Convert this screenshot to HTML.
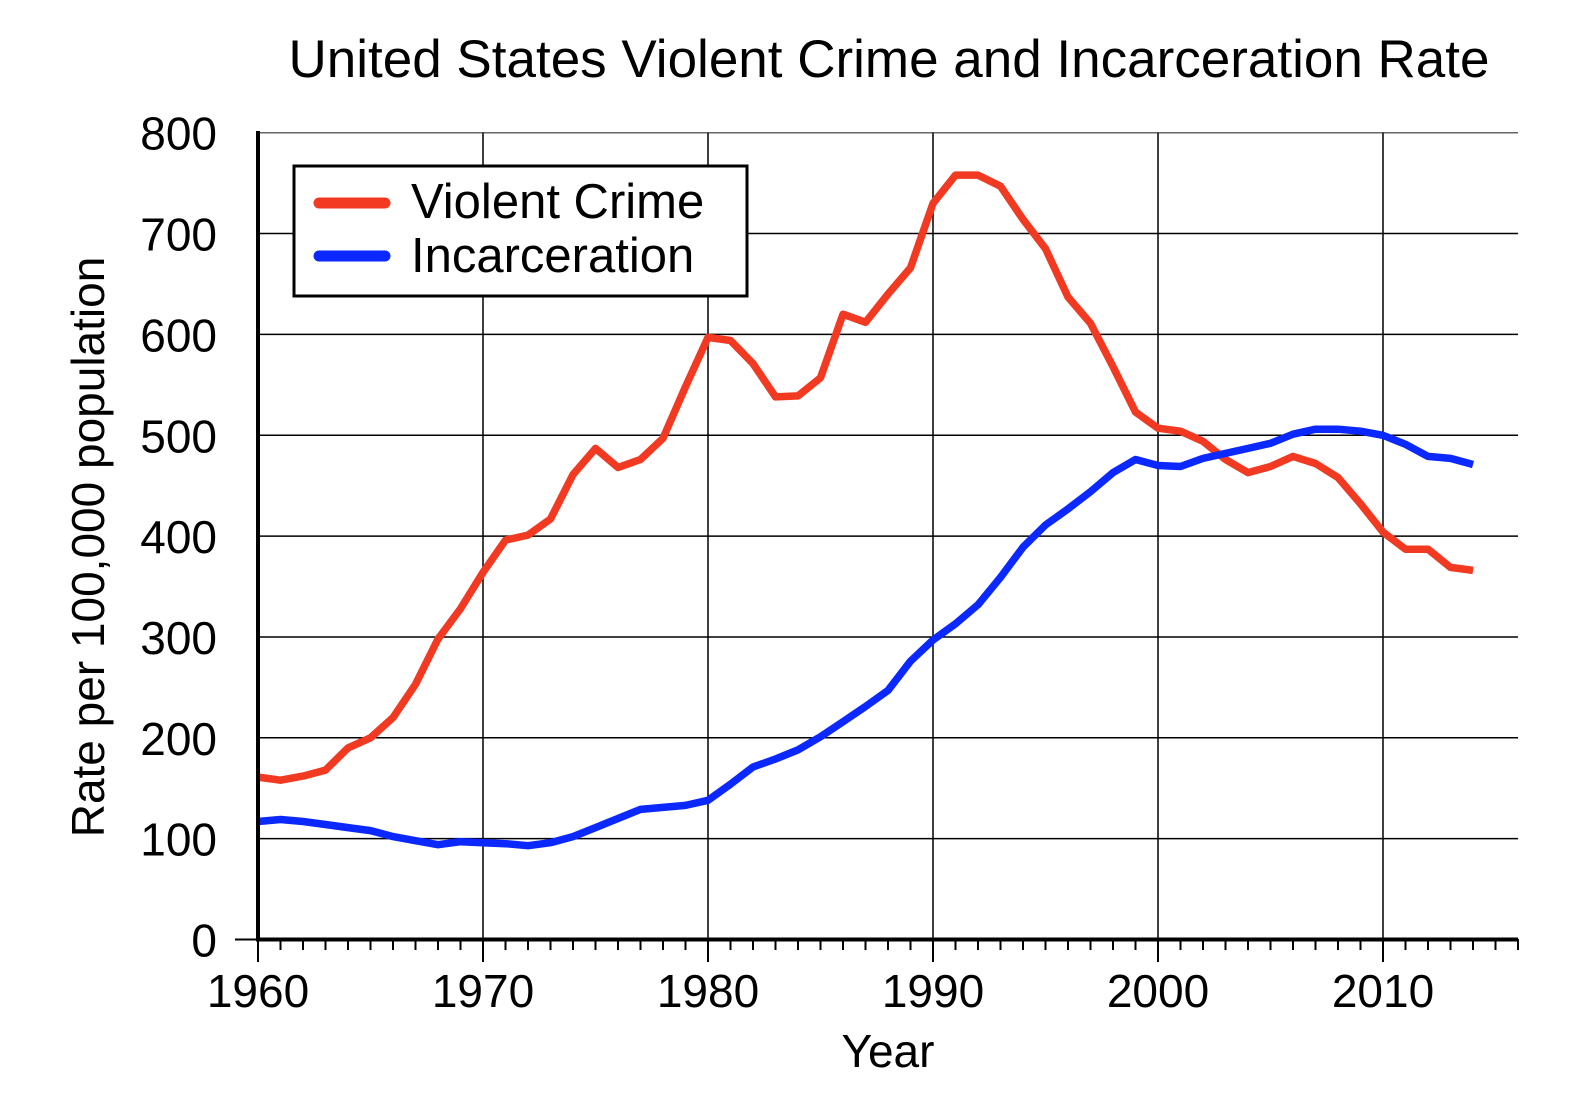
<!DOCTYPE html>
<html><head><meta charset="utf-8"><style>
html,body{margin:0;padding:0;background:#fff}
svg{display:block;font-family:"Liberation Sans",sans-serif}
</style></head><body>
<svg id="s" width="1592" height="1116" viewBox="0 0 1592 1116" xmlns="http://www.w3.org/2000/svg">
<rect width="1592" height="1116" fill="#fff"/>
<text x="889" y="77" font-size="53" text-anchor="middle">United States Violent Crime and Incarceration Rate</text>
<g id="grid" stroke="#000" stroke-width="1.5"></g>
<g id="ticks" stroke="#000" stroke-width="2"></g>
<g id="labels" font-size="46"></g>
<polyline id="vc" fill="none" stroke="#f23a22" stroke-width="7.5" stroke-linejoin="round"/>
<polyline id="inc" fill="none" stroke="#0a28ff" stroke-width="7.5" stroke-linejoin="round"/>
<line x1="258" y1="131" x2="258" y2="941" stroke="#000" stroke-width="4"/>
<line x1="256" y1="939.5" x2="1518" y2="939.5" stroke="#000" stroke-width="4"/>
<rect x="294" y="166" width="453" height="130" fill="#fff" stroke="#000" stroke-width="3"/>
<line x1="319" y1="203" x2="385" y2="203" stroke="#f23a22" stroke-width="11" stroke-linecap="round"/>
<line x1="319" y1="256" x2="385" y2="256" stroke="#0a28ff" stroke-width="11" stroke-linecap="round"/>
<text x="411" y="218" font-size="49">Violent Crime</text>
<text x="411" y="272" font-size="49">Incarceration</text>
<text x="888" y="1067" font-size="46" text-anchor="middle">Year</text>
<text transform="translate(104,547) rotate(-90)" font-size="46" text-anchor="middle">Rate per 100,000 population</text>
</svg>
<script>
var X=function(y){return 258+22.5*(y-1960)},Y=function(v){return 939.5-v*1.0085};
var ns="http://www.w3.org/2000/svg";
function el(p,t,a,txt){var e=document.createElementNS(ns,t);for(var k in a)e.setAttribute(k,a[k]);if(txt!==undefined)e.textContent=txt;document.getElementById(p).appendChild(e);}
for(var v=100;v<=800;v+=100){el('grid','line',{x1:258,x2:1518,y1:Y(v),y2:Y(v),stroke:v==800?'#666':'#000'});}
for(var y=1970;y<=2010;y+=10){el('grid','line',{x1:X(y),x2:X(y),y1:Y(800),y2:939});}
for(var y=1960;y<=2016;y++){el('ticks','line',{x1:X(y),x2:X(y),y1:939,y2:(y%10==0)?962:950});}
el('ticks','line',{x1:235,x2:258,y1:939.5,y2:939.5});
for(var v=0;v<=800;v+=100)el('labels','text',{x:217,y:Y(v)+17,'text-anchor':'end'},v);
for(var y=1960;y<=2010;y+=10)el('labels','text',{x:X(y),y:1007,'text-anchor':'middle'},y);
var vc=[161,158,162,168,190,200,220,253,298,328,364,396,401,417,461,487,468,476,497,548,597,594,571,538,539,557,620,612,640,666,730,758,758,747,714,685,637,611,568,523,507,504,494,476,463,469,479,472,458,432,404,387,387,369,366];
var inc=[117,119,117,114,111,108,102,98,94,97,96,95,93,96,102,111,120,129,131,133,138,154,171,179,188,201,216,231,247,276,297,313,332,359,389,411,427,444,463,476,470,469,477,482,487,492,501,506,506,504,500,491,479,477,471];
function pts(a){return a.map(function(v,i){return X(1960+i).toFixed(1)+','+Y(v).toFixed(1)}).join(' ');}
document.getElementById('vc').setAttribute('points',pts(vc));
document.getElementById('inc').setAttribute('points',pts(inc));
</script>
</body></html>
